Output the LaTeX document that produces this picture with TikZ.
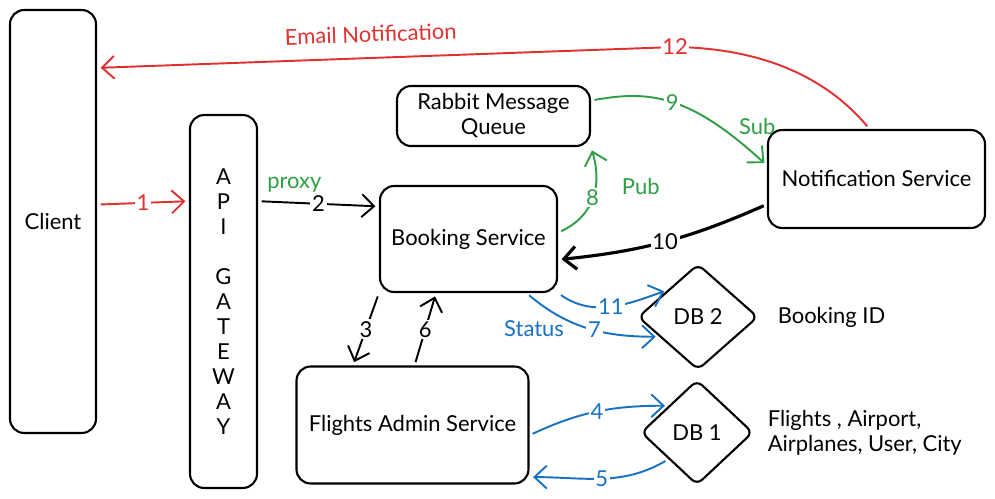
\documentclass[tikz,border=0pt]{standalone}
\usepackage{fontspec}
\setmainfont{Lato}
\usetikzlibrary{shapes.geometric,arrows.meta,positioning}
\definecolor{exred}{HTML}{E03131}
\definecolor{exgreen}{HTML}{2F9E44}
\definecolor{exblue}{HTML}{1971C2}
\tikzset{
  svcbox/.style={draw, rounded corners=8pt, line width=1.2pt, inner sep=0pt, align=center},
  dbnode/.style={draw, diamond, rounded corners=4pt, line width=1.2pt, inner sep=0pt},
  flow/.style={line width=1.1pt, -{Straight Barb[length=7pt,width=13pt]}, shorten <=2pt, shorten >=2pt},
  lbl/.style={fill=white, inner sep=1pt},
}

\begin{document}
\begin{tikzpicture}[x=0.02cm, y=-0.02cm, font=\fontsize{12.5}{14.2}\selectfont]
\useasboundingbox (0,0) rectangle (995,498);
\node[svcbox, minimum width=1.72cm, minimum height=8.46cm] (client) at (53,221.5) {Client};
\node[svcbox, minimum width=1.34cm, minimum height=7.46cm] (api) at (223.5,301.5) {A\\P\\I\\[14.2pt]G\\A\\T\\E\\W\\A\\Y};
\node[svcbox, minimum width=3.86cm, minimum height=1.2cm] (rabbit) at (493.5,116) {Rabbit Message\\Queue};
\node[svcbox, minimum width=3.54cm, minimum height=2.12cm] (booking) at (468.5,239) {Booking Service};
\node[svcbox, minimum width=4.34cm, minimum height=1.96cm] (notif) at (876.5,179) {Notification Service};
\node[svcbox, minimum width=4.64cm, minimum height=2.34cm] (flights) at (412.5,425) {Flights Admin Service};
\node[dbnode, minimum width=2.4cm, minimum height=2.12cm] (db2) at (698,317) {DB 2};
\node[dbnode, minimum width=2.24cm, minimum height=2.1cm] (db1) at (697,432.5) {DB 1};
\node[right=0.25cm of db2] (bookid) {Booking ID};
\node[right=0.15cm of db1, align=left] (dbdata) {Flights , Airport,\\Airplanes, User, City};

\draw[flow, exred] (client.21) -- node[lbl]{1} (api.109);
\draw[flow] (api.71) -- node[lbl]{2} node[pos=0.3, above=2pt, text=exgreen]{proxy} (booking.160);
\draw[flow, exred] (notif.98) .. controls (820,70) and (750,48) .. (675,47) node[lbl]{12}
  -- node[pos=0.525, above=0.18cm, sloped]{Email Notification} (client.74);
\draw[flow, exgreen] (rabbit.9) .. controls (650,90) and (690,95) .. node[lbl]{9}
  node[pos=0.72, right=0.45cm, yshift=-0.12cm]{Sub} (notif.173);
\draw[flow, exgreen] (booking.4) .. controls (595,215) and (602,185) .. node[lbl]{8} node[pos=0.62, right=0.4cm]{Pub} (rabbit.south east);
\draw[flow, line width=1.8pt] (notif.193) to[bend left=9] node[lbl]{10} (booking.-13);
\draw[flow] (booking.south west) -- node[lbl]{3} (flights.135);
\draw[flow] (flights.88) -- node[lbl]{6} (booking.-121);
\draw[flow, exblue] (booking.south east) to[out=-35,in=200] node[lbl]{11} (db2.north west);
\draw[flow, exblue] (booking.-43) to[out=-40,in=180] node[lbl, pos=0.55]{7}
  node[pos=0.3, below left=-0.08cm and -0.15cm]{Status} (db2.207);
\draw[flow, exblue] (flights.-5) to[out=25,in=180] node[lbl]{4} (db1.north west);
\draw[flow, exblue] (db1.south west) to[out=210,in=0] node[lbl]{5} (flights.-24);
\end{tikzpicture}
\end{document}
